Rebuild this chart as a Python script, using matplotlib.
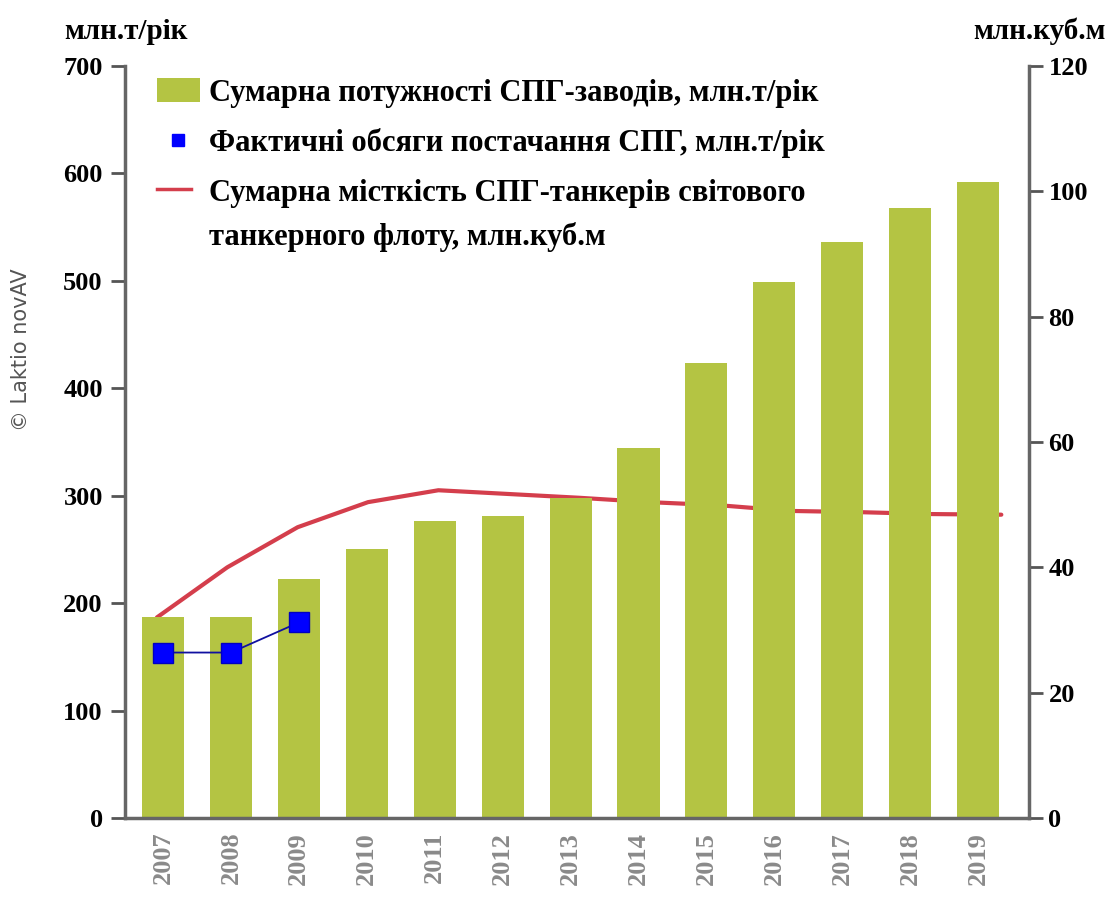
import numpy as np
import matplotlib
matplotlib.use('Agg')
import matplotlib.pyplot as plt
from matplotlib.patches import Patch
from matplotlib.lines import Line2D

years = ['2007', '2008', '2009', '2010', '2011', '2012', '2013',
         '2014', '2015', '2016', '2017', '2018', '2019']
capacity = [187, 187, 222, 250, 276, 281, 298, 344, 424, 499, 536, 568, 592]
supply_years = ['2007', '2008', '2009']
supply = [154, 154, 182]
fleet = [32, 40, 46.4, 50.4, 52.3, 51.7, 51.1, 50.4, 49.9, 49.0, 48.8, 48.5, 48.4]

plt.rcParams['font.family'] = ['Liberation Serif', 'DejaVu Serif']
plt.rcParams['font.weight'] = 'bold'

fig = plt.figure(figsize=(11.09, 8.97), dpi=100)
ax = fig.add_axes([0.1127, 0.0881, 0.8152, 0.8383])
ax2 = ax.twinx()

x = np.arange(len(years))
ax.bar(x, capacity, width=0.62, color='#b4c443', zorder=2)

sx = [years.index(y) for y in supply_years]
ax.plot(sx, supply, color='#1010a0', lw=1.3, marker='s', ms=14,
        mfc='#0000ff', mec='#0000c0', zorder=5)

# line series sits on a slightly stretched x grid in the original
lx = x * 1.036 - 0.09
ax2.plot(lx, fleet, color='#d43e4c', lw=3, solid_capstyle='round', zorder=4)

ax.set_xlim(-0.56, 12.75)
ax.set_ylim(0, 700)
ax2.set_ylim(0, 120)
ax.set_yticks(range(0, 701, 100))
ax2.set_yticks(range(0, 121, 20))

ax.set_xticks(x)
ax.set_xticklabels(years, rotation=90, color='#8a8a8a', fontsize=19, fontweight='bold')
ax.tick_params(axis='x', length=0, pad=10)
ax.tick_params(axis='y', length=10, width=2, color='#555555', labelsize=19, pad=6)
ax2.tick_params(axis='y', length=10, width=2, color='#555555', labelsize=19, pad=4)

for a in (ax, ax2):
    a.spines['top'].set_visible(False)
    for s in ('left', 'right', 'bottom'):
        a.spines[s].set_color('#666666')
        a.spines[s].set_linewidth(2.5)
ax.spines['right'].set_visible(False)
ax2.spines['left'].set_visible(False)
ax2.spines['bottom'].set_visible(False)

ax.set_zorder(ax2.get_zorder() + 1)
ax.patch.set_visible(False)

fig.text(0.058, 0.965, 'млн.т/рік', fontsize=21, fontweight='bold', ha='left', va='center')
fig.text(0.997, 0.965, 'млн.куб.м', fontsize=21, fontweight='bold', ha='right', va='center')
fig.text(0.019, 0.61, '© Laktio novAV', rotation=90, fontsize=15, color='#555555',
         family='DejaVu Sans', fontweight='normal', ha='center', va='center')

handles = [
    Patch(facecolor='#b4c443', edgecolor='none'),
    Line2D([], [], ls='none', marker='s', ms=8.5, mfc='#0000ff', mec='#0000ff'),
    Line2D([], [], color='#d43e4c', lw=2.5),
]
labels = [
    'Сумарна потужності СПГ-заводів, млн.т/рік',
    'Фактичні обсяги постачання СПГ, млн.т/рік',
    'Сумарна місткість СПГ-танкерів світового\nтанкерного флоту, млн.куб.м',
]
leg = ax.legend(handles, labels, loc='upper left', bbox_to_anchor=(0.022, 1.0),
                frameon=False, fontsize=22, handlelength=1.4, handleheight=0.8,
                handletextpad=0.3, labelspacing=0.68, borderaxespad=0, borderpad=0.4)
for t in leg.get_texts():
    t.set_linespacing(1.6)

# red legend line sits next to the first text line, not centred on both
red = leg.legend_handles[2]
red.set_ydata(np.asarray(red.get_ydata()) + 19)
red.set_xdata([xx * 0.8 for xx in red.get_xdata()])

fig.savefig('out.png', dpi=100)
